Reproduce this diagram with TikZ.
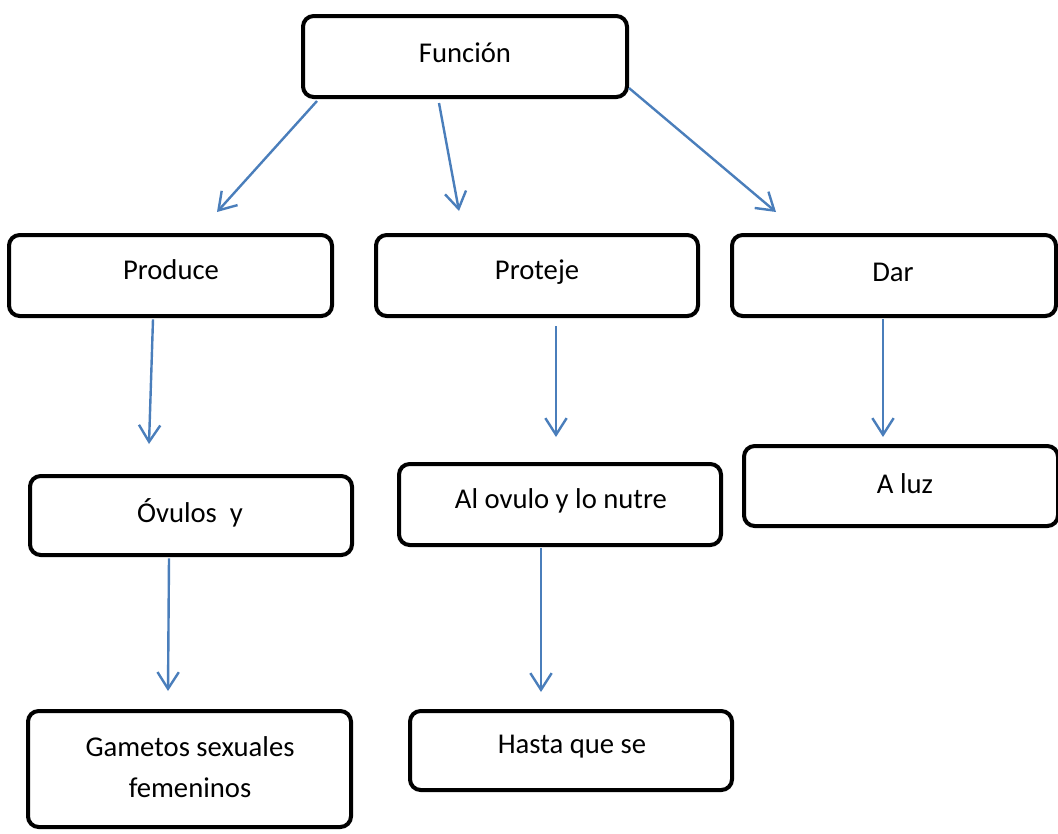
\documentclass[tikz,border=0pt]{standalone}
\usepackage{fontspec}
\setmainfont{Carlito}
\usetikzlibrary{arrows.meta}
\definecolor{arrowblue}{RGB}{74,126,187}
\tikzset{
  box/.style={draw=black, line width=3pt, rounded corners=8pt, minimum width=#1*0.75pt, minimum height=80*0.75pt, inner sep=0pt, fill=white},
  box/.default=322,
  lbl/.style={font=\fontsize{21.5}{31}\selectfont, inner sep=0pt, align=center},
  conn/.style={draw=arrowblue, line width=1.8pt, -{Straight Barb[length=12.5pt,width=16pt,line width=1.8pt]}}
}
\begin{document}
\begin{tikzpicture}[x=0.75pt,y=-0.75pt]
\useasboundingbox (0,0) rectangle (1058,833);
% boxes
\node[box=324, minimum height=81*0.75pt] (fun) at (465,56.5) {};
\node[lbl] (funt) at (465,53) {Función};
\node[box=323, minimum height=81*0.75pt] (pro) at (170.5,275.5) {};
\node[lbl] (prot) at (171,270) {Produce};
\node[box=322, minimum height=81*0.75pt] (ptj) at (537,275.5) {};
\node[lbl] (ptjt) at (537,272.5) {Proteje};
\node[box=324, minimum height=81*0.75pt] (dar) at (894,275.5) {};
\node[lbl] (dart) at (893,272) {Dar};
\node[box=322, minimum height=79*0.75pt] (ovu) at (191,515.5) {};
\node[lbl] (ovut) at (190,513) {Óvulos\ \ y};
\node[box=322, minimum height=81*0.75pt] (alo) at (560,504.5) {};
\node[lbl] (alot) at (561,501) {Al ovulo y lo nutre};
\node[box=314, minimum height=80*0.75pt] (luz) at (901,486) {};
\node[lbl] (luzt) at (905,484) {A luz};
\node[box=323, minimum height=116*0.75pt] (gam) at (189.5,769) {};
\node[lbl] (gamt) at (190,767) {Gametos sexuales\\femeninos};
\node[box=322, minimum height=79*0.75pt] (has) at (571,750.5) {};
\node[lbl] (hast) at (572,747) {Hasta que se};
% free arrow ends
\coordinate (e1) at (217,212);
\coordinate (e2) at (459,211);
\coordinate (e3) at (776,212);
\coordinate (e4) at (149,444);
\coordinate (e5) at (556,437);
\coordinate (e6) at (883,437);
\coordinate (e7) at (168,691);
\coordinate (e8) at (541,692);
% connectors
\draw[conn] ([xshift=16*0.75pt,yshift=-1.5pt]fun.south west) -- (e1);
\draw[conn] ([xshift=-26*0.75pt,yshift=-3pt]fun.south) -- (e2);
\draw[conn] ([yshift=-31.5*0.75pt]fun.east) -- (e3);
\draw[conn] ([xshift=-17.5*0.75pt,yshift=-1pt]pro.south) -- (e4);
\draw[conn] ([xshift=19*0.75pt,yshift=-6pt]ptj.south) -- (e5);
\draw[conn] ([xshift=-11*0.75pt,yshift=-1pt]dar.south) -- (e6);
\draw[conn] ([xshift=-22*0.75pt,yshift=-1pt]ovu.south) -- (e7);
\draw[conn] ([xshift=-19*0.75pt,yshift=-1pt]alo.south) -- (e8);
\end{tikzpicture}
\end{document}
